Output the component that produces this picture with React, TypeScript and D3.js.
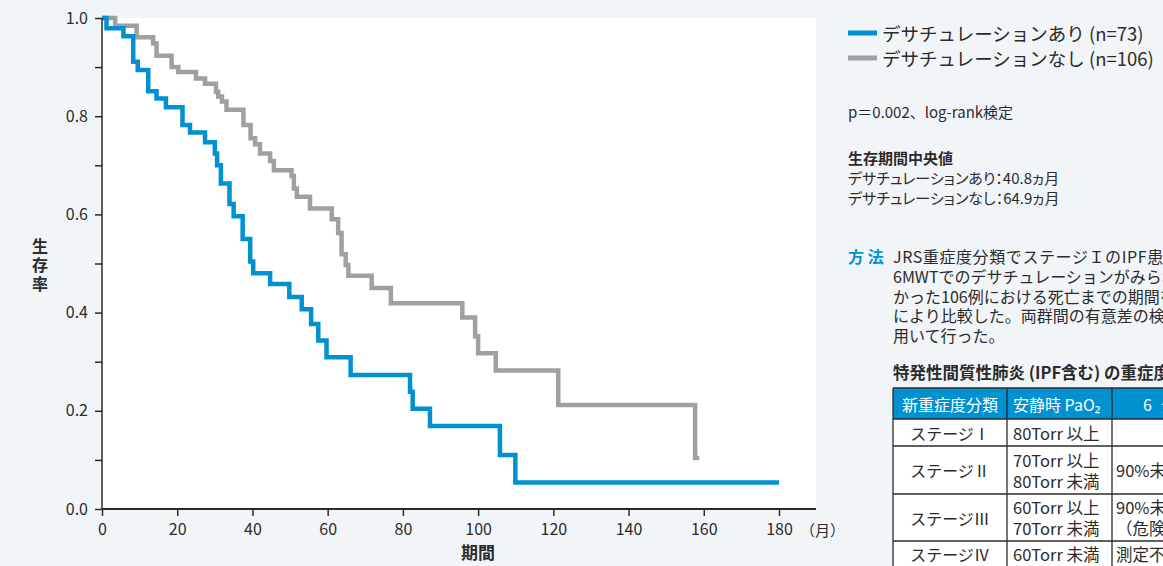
import { useEffect, useRef } from 'react';
import * as d3 from 'd3';

// Kaplan-Meier steps: month, survival
const desatTimes = [0, 1.2, 5.7, 8.3, 9.5, 12.3, 14.5, 17.0, 21.4, 23.4, 27.4, 30.0, 30.6, 31.6, 33.9, 35.0, 37.4, 39.4, 40.2, 44.7, 49.8, 53.1, 55.6, 57.5, 59.7, 66.1, 81.9, 82.6, 87.2, 105.8, 109.9, 180];
const desatSurv = [1.0, 0.979, 0.963, 0.911, 0.894, 0.851, 0.836, 0.818, 0.782, 0.767, 0.747, 0.724, 0.7, 0.663, 0.621, 0.596, 0.55, 0.504, 0.48, 0.458, 0.432, 0.407, 0.377, 0.343, 0.309, 0.273, 0.239, 0.204, 0.169, 0.11, 0.054, 0.054];

const noDesatTimes = [0, 3.5, 9.2, 13.6, 14.5, 18.5, 20.3, 25.0, 27.4, 30.3, 30.9, 31.9, 33.1, 37.6, 39.5, 40.7, 42.0, 44.7, 45.7, 50.4, 51.0, 51.8, 55.3, 61.1, 62.8, 63.7, 64.8, 65.5, 71.7, 76.8, 95.8, 99.2, 100.0, 104.7, 121.3, 157.7, 158.8];
const noDesatSurv = [1.0, 0.984, 0.961, 0.948, 0.923, 0.9, 0.89, 0.877, 0.866, 0.85, 0.84, 0.83, 0.813, 0.782, 0.755, 0.743, 0.724, 0.709, 0.69, 0.678, 0.653, 0.636, 0.612, 0.59, 0.562, 0.519, 0.497, 0.475, 0.45, 0.419, 0.39, 0.352, 0.317, 0.282, 0.212, 0.104, 0.104];

const xTicks = [0, 20, 40, 60, 80, 100, 120, 140, 160, 180];
const yTicks = [0, 0.1, 0.2, 0.3, 0.4, 0.5, 0.6, 0.7, 0.8, 0.9, 1.0];

const legendLabels = ['デサチュレーションあり (n=73)', 'デサチュレーションなし (n=106)'];
const medianLines = ['デサチュレーションあり：40.8ヵ月', 'デサチュレーションなし：64.9ヵ月'];
const methodLines = [
  'JRS重症度分類でステージＩのIPF患者で、',
  '6MWTでのデサチュレーションがみられた73例とみられな',
  'かった106例における死亡までの期間をKaplan-Meier法',
  'により比較した。両群間の有意差の検定はlog-rank検定を',
  '用いて行った。',
];
const tableHeader = ['新重症度分類', '安静時 PaO₂', '6 分間歩行時 SpO₂'];
const tableStages = ['ステージⅠ', 'ステージⅡ', 'ステージⅢ', 'ステージⅣ'];
const tablePaO2 = [['80Torr 以上'], ['70Torr 以上', '80Torr 未満'], ['60Torr 以上', '70Torr 未満'], ['60Torr 未満']];
const tableSpO2 = [[''], ['90%未満'], ['90%未満', '（危険な場合は不要）'], ['測定不要']];

const BLUE = '#0091d1';
const GRAY = '#a0a0a0';
const INK = '#2b2b2b';
const FONT = '"Noto Sans CJK JP", "Noto Sans", sans-serif';

export default function App() {
  const ref = useRef<SVGSVGElement>(null);

  useEffect(() => {
    const svg = d3.select(ref.current);
    svg.selectAll('*').remove();
    svg.attr('viewBox', '0 0 1163 566');

    svg.append('rect').attr('width', 1163).attr('height', 566).attr('fill', '#f2f5f8');

    const x = d3.scaleLinear().domain([0, 180]).range([102, 779]);
    const y = d3.scaleLinear().domain([0, 1]).range([509, 18]);

    svg.append('rect').attr('x', 102).attr('y', 18).attr('width', 714).attr('height', 491).attr('fill', '#ffffff');

    const line = d3
      .line<[number, number]>()
      .x((d) => x(d[0]))
      .y((d) => y(d[1]))
      .curve(d3.curveStepAfter);

    const series = [
      { times: noDesatTimes, surv: noDesatSurv, color: GRAY },
      { times: desatTimes, surv: desatSurv, color: BLUE },
    ];
    series.forEach((s) => {
      const pts = s.times.map((t, i) => [t, s.surv[i]] as [number, number]);
      svg
        .append('path')
        .attr('d', line(pts))
        .attr('fill', 'none')
        .attr('stroke', s.color)
        .attr('stroke-width', 4.5)
        .attr('stroke-linejoin', 'miter')
        .attr('stroke-linecap', 'butt');
    });

    // axes
    const yAxis = svg
      .append('g')
      .attr('transform', 'translate(102,0)')
      .call(
        d3
          .axisLeft(y)
          .tickValues(yTicks)
          .tickSize(7)
          .tickPadding(7)
          .tickFormat((v) => (Math.round(+v * 10) % 2 === 0 ? d3.format('.1f')(+v) : ''))
      );
    yAxis.select('.domain').remove();
    yAxis.selectAll('line').attr('stroke', INK).attr('stroke-width', 1.5);
    yAxis.selectAll('text').attr('font-size', 16).attr('font-family', FONT).attr('fill', INK);

    const xAxis = svg
      .append('g')
      .attr('transform', 'translate(0,509)')
      .call(d3.axisBottom(x).tickValues(xTicks).tickSize(7).tickPadding(8).tickFormat(d3.format('d')));
    xAxis.select('.domain').remove();
    xAxis.selectAll('line').attr('stroke', INK).attr('stroke-width', 1.5);
    xAxis.selectAll('text').attr('font-size', 16).attr('font-family', FONT).attr('fill', INK);

    svg.append('line').attr('x1', 102).attr('x2', 102).attr('y1', 18).attr('y2', 509).attr('stroke', INK).attr('stroke-width', 1.5);
    svg.append('line').attr('x1', 102).attr('x2', 816).attr('y1', 509).attr('y2', 509).attr('stroke', INK).attr('stroke-width', 2);

    // one text element, lines as tspans
    const block = (tx: number, ty: number, lines: string[], size: number, gap: number, opts: Record<string, any> = {}) => {
      const t = svg
        .append('text')
        .attr('font-size', size)
        .attr('font-family', FONT)
        .attr('fill', opts.fill ?? INK)
        .attr('font-weight', opts.weight ?? 'normal')
        .attr('text-anchor', opts.anchor ?? 'start')
        .attr('dominant-baseline', 'central')
        .style('font-feature-settings', opts.palt ? '"palt"' : 'normal');
      lines.forEach((l, i) =>
        t
          .append('tspan')
          .attr('x', tx)
          .attr('y', ty + i * gap)
          .attr('letter-spacing', opts.spacing && i === 0 ? opts.spacing : 0)
          .text(l)
      );
      return t;
    };

    block(800, 529, ['（月）'], 15, 0);
    block(478, 551, ['期間'], 17, 0, { weight: 'bold', anchor: 'middle' });
    svg
      .append('text')
      .attr('x', 40)
      .attr('y', 238)
      .attr('font-size', 16)
      .attr('font-family', FONT)
      .attr('font-weight', 'bold')
      .attr('fill', INK)
      .style('writing-mode', 'vertical-rl')
      .attr('letter-spacing', 3)
      .text('生存率');

    // legend
    [BLUE, GRAY].forEach((c, i) => {
      svg.append('line').attr('x1', 848).attr('x2', 877).attr('y1', 33 + i * 25).attr('y2', 33 + i * 25).attr('stroke', c).attr('stroke-width', 5);
      block(882, 33 + i * 25, [legendLabels[i]], 18.5, 0);
    });

    block(848, 111, ['p＝0.002、log-rank検定'], 15, 0);
    block(848, 157, ['生存期間中央値'], 15, 0, { weight: 'bold' });
    block(848, 177, medianLines, 15, 19.5, { palt: true });

    block(848, 256, ['方 法'], 16, 0, { weight: 'bold', fill: BLUE });
    block(893, 256, methodLines, 16, 19.8, { spacing: 0.6 });

    block(893, 372, ['特発性間質性肺炎 (IPF含む) の重症度分類'], 16.5, 0, { weight: 'bold' });

    // table
    const cols = [893, 1007, 1112, 1400];
    const rows = [388, 419, 446, 494, 541, 590];
    svg.append('rect').attr('x', cols[0]).attr('y', rows[0]).attr('width', cols[3] - cols[0]).attr('height', rows[5] - rows[0]).attr('fill', '#ffffff');
    svg.append('rect').attr('x', cols[0]).attr('y', rows[0]).attr('width', cols[3] - cols[0]).attr('height', rows[1] - rows[0]).attr('fill', BLUE);
    rows.forEach((r) => svg.append('line').attr('x1', cols[0]).attr('x2', cols[3]).attr('y1', r).attr('y2', r).attr('stroke', INK).attr('stroke-width', 1.3));
    cols.forEach((c) => svg.append('line').attr('x1', c).attr('x2', c).attr('y1', rows[0]).attr('y2', rows[5]).attr('stroke', INK).attr('stroke-width', 1.3));

    block(950, 404, [tableHeader[0]], 16, 0, { fill: '#ffffff', anchor: 'middle' });
    block(1013, 404, [tableHeader[1]], 16, 0, { fill: '#ffffff' });
    block(1143, 404, [tableHeader[2]], 16, 0, { fill: '#ffffff', spacing: 3 });

    tableStages.forEach((s, i) => {
      const cy = i === 3 ? 554 : (rows[i + 1] + rows[i + 2]) / 2;
      block(950, cy, [s], 16, 0, { anchor: 'middle' });
      const pa = tablePaO2[i];
      const sp = tableSpO2[i];
      block(1013, cy - ((pa.length - 1) / 2) * 21, pa, 16.5, 21);
      if (sp[0]) block(1116, cy - ((sp.length - 1) / 2) * 21, sp, 16.5, 21);
    });
  }, []);

  return (
    <svg
      ref={ref}
      width={1163}
      height={566}
      style={{ position: 'absolute', left: 0, top: 0, display: 'block' }}
    />
  );
}
